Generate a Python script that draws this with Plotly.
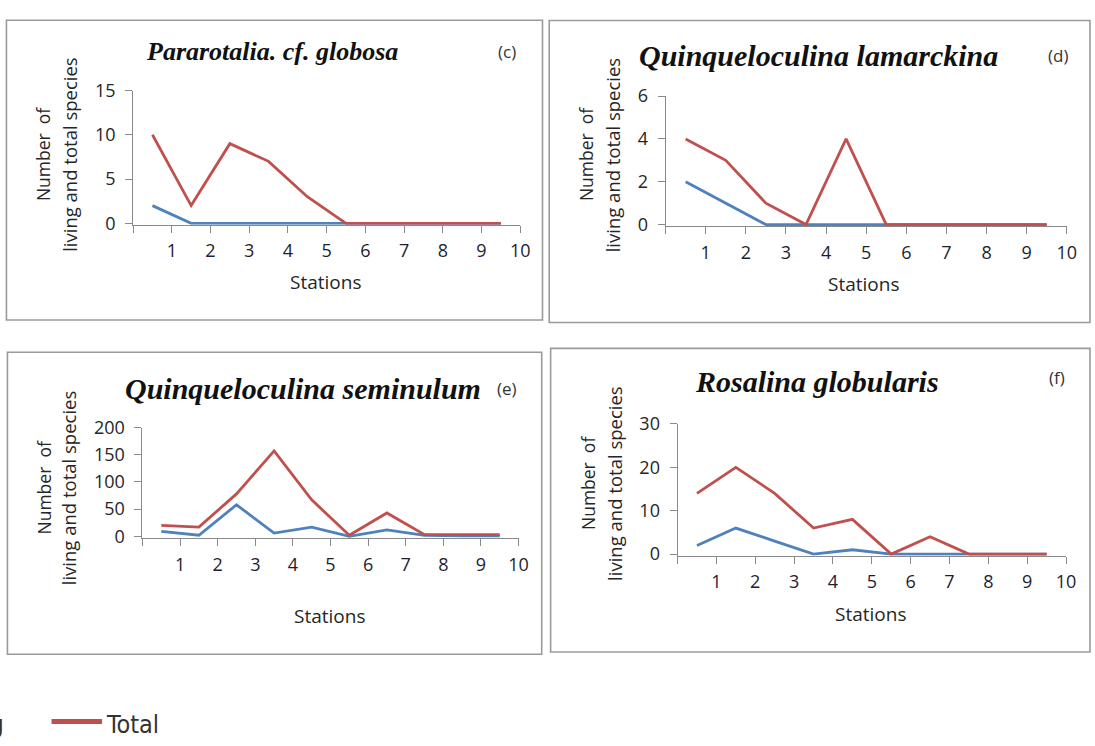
import plotly.graph_objects as go

W, H = 1095, 746

# ---------------- data ----------------
station_pos = [0.5, 1.5, 2.5, 3.5, 4.5, 5.5, 6.5, 7.5, 8.5, 9.5]
station_ticks = [0, 1, 2, 3, 4, 5, 6, 7, 8, 9, 10]
station_labels = ["", "1", "2", "3", "4", "5", "6", "7", "8", "9", "10"]

titles = ["Pararotalia. cf. globosa", "Quinqueloculina lamarckina",
          "Quinqueloculina seminulum", "Rosalina globularis"]
letters = ["(c)", "(d)", "(e)", "(f)"]

living_c = [2, 0, 0, 0, 0, 0, 0, 0, 0, 0]
total_c = [10, 2, 9, 7, 3, 0, 0, 0, 0, 0]
living_d = [2, 1, 0, 0, 0, 0, 0, 0, 0, 0]
total_d = [4, 3, 1, 0, 4, 0, 0, 0, 0, 0]
living_e = [9, 2, 58, 6, 17, 0, 12, 2, 1, 1]
total_e = [20, 17, 78, 157, 67, 2, 43, 3, 3, 3]
living_f = [2, 6, 3, 0, 1, 0, 0, 0, 0, 0]
total_f = [14, 20, 14, 6, 8, 0, 4, 0, 0, 0]

living = [living_c, living_d, living_e, living_f]
total = [total_c, total_d, total_e, total_f]
y_max = [15, 6, 200, 30]
y_step = [5, 2, 50, 10]

# ---------------- geometry (pixels) ----------------
plot_px = [(134.3, 525.0, 80.0, 217.0), (671.7, 1076.6, 85.7, 218.3),
           (143.8, 523.3, 427.7, 540.0), (683.8, 1075.9, 424.0, 558.3)]
box_px = [(6.5, 547.5, 7.5, 316.8), (554.3, 1100, 7.7, 319.3),
          (7.5, 546.7, 350.0, 661.7), (555.7, 1100, 346.0, 659.3)]
title_pos = [(275, 40, 26), (826, 44, 30), (306, 387, 30), (825, 380, 30)]
letter_pos = [(512, 40), (1068, 44), (512, 387), (1067, 376)]
ytitle_pos = [(44, 70, 146), (592, 618.5, 146), (44, 70, 490), (593.4, 619.5, 485)]
stations_pos = [(328, 278), (871.5, 280), (333, 621.7), (878.5, 620)]

BLUE = "#4F81BD"
RED = "#C0504D"
AXC = "#8a8a8a"
SANS = "Open Sans, DejaVu Sans, sans-serif"
SERIF = "Liberation Serif, Times New Roman, serif"
NARROW = "Liberation Sans Narrow, DejaVu Sans Condensed, Liberation Sans, sans-serif"


def px_x(x):
    return x / W


def px_y(y):
    return 1 - y / H


fig = go.Figure()
layout = dict(width=W, height=H, margin=dict(l=0, r=0, t=0, b=0), autosize=False,
              paper_bgcolor="white", plot_bgcolor="white", showlegend=False)
shapes = []
annotations = []

for i in range(4):
    n = "" if i == 0 else str(i + 1)
    xa, ya = "x" + n, "y" + n
    x0, x1, ytop, ybot = plot_px[i]
    pad_px = 1.6
    pad = pad_px * y_max[i] / (ybot - ytop)
    layout["xaxis" + n] = dict(
        domain=[px_x(x0), px_x(x1)], range=[0, 10], anchor=ya,
        tickvals=station_ticks, ticktext=station_labels,
        ticks="outside", ticklen=7, tickcolor=AXC, tickwidth=1,
        showline=True, linecolor=AXC, linewidth=1, showgrid=False, zeroline=False,
        tickfont=dict(family=SANS, size=18, color="#1e1e2e"),
        ticklabelstandoff=3, fixedrange=True)
    layout["yaxis" + n] = dict(
        domain=[px_y(ybot + pad_px), px_y(ytop)], range=[-pad, y_max[i]], anchor=xa,
        tickvals=list(range(0, y_max[i] + 1, y_step[i])),
        ticks="outside", ticklen=7, tickcolor=AXC, tickwidth=1,
        showline=True, linecolor=AXC, linewidth=1, showgrid=False, zeroline=False,
        tickfont=dict(family=SANS, size=18, color="#262626"),
        ticklabelstandoff=6, fixedrange=True)

    fig.add_trace(go.Scatter(x=station_pos, y=living[i], mode="lines", name="Living",
                             line=dict(color=BLUE, width=2.8), xaxis=xa, yaxis=ya))
    fig.add_trace(go.Scatter(x=station_pos, y=total[i], mode="lines", name="Total",
                             line=dict(color=RED, width=2.8), xaxis=xa, yaxis=ya))

    bx0, bx1, by0, by1 = box_px[i]
    shapes.append(dict(type="rect", xref="paper", yref="paper",
                       x0=px_x(bx0), x1=px_x(bx1), y0=px_y(by1), y1=px_y(by0),
                       line=dict(color="#9a9a9a", width=1.6), fillcolor="rgba(0,0,0,0)",
                       layer="below"))

    tx, ty, ts = title_pos[i]
    annotations.append(dict(text="<b><i>" + titles[i] + "</i></b>", x=px_x(tx), y=px_y(ty),
                            xref="paper", yref="paper", showarrow=False,
                            xanchor="center", yanchor="middle",
                            font=dict(family=SERIF, size=ts, color="#111111")))
    lx, ly = letter_pos[i]
    annotations.append(dict(text=letters[i], x=px_x(lx), y=px_y(ly), xref="paper", yref="paper",
                            showarrow=False, xanchor="center", yanchor="middle",
                            font=dict(family=SANS, size=17, color="#333333")))
    c1, c2, cy = ytitle_pos[i]
    annotations.append(dict(text="Number\u00a0 of", x=px_x(c1), y=px_y(cy), xref="paper", yref="paper",
                            showarrow=False, textangle=-90, xanchor="center", yanchor="middle",
                            font=dict(family=SANS, size=17.5, color="#262626")))
    annotations.append(dict(text="living and total species", x=px_x(c2), y=px_y(cy),
                            xref="paper", yref="paper",
                            showarrow=False, textangle=-90, xanchor="center", yanchor="middle",
                            font=dict(family=SANS, size=18.5, color="#262626")))
    sx, sy = stations_pos[i]
    annotations.append(dict(text="Stations", x=px_x(sx), y=px_y(sy), xref="paper", yref="paper",
                            showarrow=False, xanchor="center", yanchor="middle",
                            font=dict(family=SANS, size=19, color="#262626")))

# legend (partly cut at the left edge, as in the source)
shapes.append(dict(type="line", xref="paper", yref="paper", x0=px_x(52), x1=px_x(103),
                   y0=px_y(731), y1=px_y(731), line=dict(color=RED, width=5)))
annotations.append(dict(text="Total", x=px_x(105), y=px_y(734), xref="paper", yref="paper",
                        showarrow=False, xanchor="left", yanchor="middle",
                        font=dict(family=NARROW, size=25, color="#333333")))
annotations.append(dict(text="Living", x=px_x(6), y=px_y(734), xref="paper", yref="paper",
                        showarrow=False, xanchor="right", yanchor="middle",
                        font=dict(family=NARROW, size=25, color="#333333")))

layout["shapes"] = shapes
layout["annotations"] = annotations
fig.update_layout(**layout)
fig.write_html("out.html", config={"displayModeBar": False},
               post_script="document.body.style.margin='0';document.body.style.overflow='hidden';")
